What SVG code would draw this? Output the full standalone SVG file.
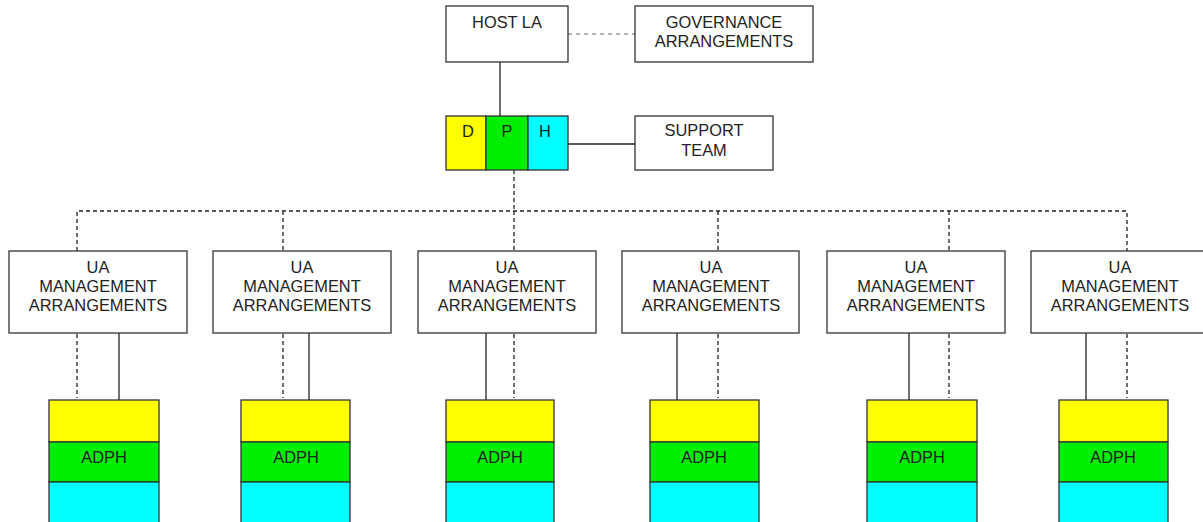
<svg xmlns="http://www.w3.org/2000/svg" width="1203" height="522" viewBox="0 0 1203 522">
<style>
.box{fill:#fff;stroke:#333;stroke-width:1.3}
.y{fill:#ffff00;stroke:#333;stroke-width:1.3}
.g{fill:#00ee00;stroke:#333;stroke-width:1.3}
.c{fill:#00ffff;stroke:#333;stroke-width:1.3}
text{font-family:"Liberation Sans",Arial,sans-serif;font-size:16.4px;fill:#222;text-anchor:middle}
.s{stroke:#222;stroke-width:1.3;fill:none}
.d{stroke:#222;stroke-width:1.3;fill:none;stroke-dasharray:4,3}
.d2{stroke:#666;stroke-width:1.1;fill:none;stroke-dasharray:4,4}
</style>
<rect width="1203" height="522" fill="#fff"/>
<g id="connectors">
<line class="d2" x1="568" y1="34" x2="635" y2="34"/>
<line class="s" x1="500" y1="62" x2="500" y2="116"/>
<line class="s" x1="568" y1="144" x2="635" y2="144"/>
<line class="d" x1="514" y1="170" x2="514" y2="211"/>
<polyline class="d" points="77,251 77,211 1127,211 1127,251"/>
<line class="d" x1="283" y1="211" x2="283" y2="251"/>
<line class="d" x1="514" y1="211" x2="514" y2="251"/>
<line class="d" x1="718" y1="211" x2="718" y2="251"/>
<line class="d" x1="949" y1="211" x2="949" y2="251"/>
<line class="d" x1="77" y1="334" x2="77" y2="398"/>
<line class="s" x1="119" y1="333" x2="119" y2="400"/>
<line class="d" x1="283" y1="334" x2="283" y2="398"/>
<line class="s" x1="309" y1="333" x2="309" y2="400"/>
<line class="s" x1="486" y1="333" x2="486" y2="400"/>
<line class="d" x1="514" y1="334" x2="514" y2="398"/>
<line class="s" x1="677" y1="333" x2="677" y2="400"/>
<line class="d" x1="718" y1="334" x2="718" y2="398"/>
<line class="s" x1="909" y1="333" x2="909" y2="400"/>
<line class="d" x1="949" y1="334" x2="949" y2="398"/>
<line class="s" x1="1086" y1="333" x2="1086" y2="400"/>
<line class="d" x1="1127" y1="334" x2="1127" y2="398"/>
</g>
<g id="host-la"><rect class="box" x="446" y="6" width="122" height="56"/><text x="507" y="28">HOST LA</text></g>
<g id="governance"><rect class="box" x="635" y="6" width="178" height="56"/><text x="724" y="28">GOVERNANCE</text><text x="724" y="47">ARRANGEMENTS</text></g>
<g id="dph">
<rect class="y" x="446" y="116" width="40" height="54"/><text x="468" y="137">D</text>
<rect class="g" x="486" y="116" width="42" height="54"/><text x="507" y="137">P</text>
<rect class="c" x="528" y="116" width="40" height="54"/><text x="545" y="137">H</text>
</g>
<g id="support-team"><rect class="box" x="635" y="116" width="138" height="54"/><text x="704" y="136">SUPPORT</text><text x="704" y="156">TEAM</text></g>
<g id="ua1"><rect class="box" x="9" y="251" width="178" height="82"/><text x="98" y="273">UA</text><text x="98" y="292">MANAGEMENT</text><text x="98" y="311">ARRANGEMENTS</text></g>
<g id="ua2"><rect class="box" x="213" y="251" width="178" height="82"/><text x="302" y="273">UA</text><text x="302" y="292">MANAGEMENT</text><text x="302" y="311">ARRANGEMENTS</text></g>
<g id="ua3"><rect class="box" x="418" y="251" width="178" height="82"/><text x="507" y="273">UA</text><text x="507" y="292">MANAGEMENT</text><text x="507" y="311">ARRANGEMENTS</text></g>
<g id="ua4"><rect class="box" x="622" y="251" width="177" height="82"/><text x="711" y="273">UA</text><text x="711" y="292">MANAGEMENT</text><text x="711" y="311">ARRANGEMENTS</text></g>
<g id="ua5"><rect class="box" x="827" y="251" width="178" height="82"/><text x="916" y="273">UA</text><text x="916" y="292">MANAGEMENT</text><text x="916" y="311">ARRANGEMENTS</text></g>
<g id="ua6"><rect class="box" x="1031" y="251" width="178" height="82"/><text x="1120" y="273">UA</text><text x="1120" y="292">MANAGEMENT</text><text x="1120" y="311">ARRANGEMENTS</text></g>
<g id="adph1"><rect class="y" x="49" y="400" width="110" height="42"/><rect class="g" x="49" y="442" width="110" height="40"/><rect class="c" x="49" y="482" width="110" height="50"/><text x="104" y="463">ADPH</text></g>
<g id="adph2"><rect class="y" x="241" y="400" width="109" height="42"/><rect class="g" x="241" y="442" width="109" height="40"/><rect class="c" x="241" y="482" width="109" height="50"/><text x="296" y="463">ADPH</text></g>
<g id="adph3"><rect class="y" x="446" y="400" width="108" height="42"/><rect class="g" x="446" y="442" width="108" height="40"/><rect class="c" x="446" y="482" width="108" height="50"/><text x="500" y="463">ADPH</text></g>
<g id="adph4"><rect class="y" x="650" y="400" width="109" height="42"/><rect class="g" x="650" y="442" width="109" height="40"/><rect class="c" x="650" y="482" width="109" height="50"/><text x="704" y="463">ADPH</text></g>
<g id="adph5"><rect class="y" x="867" y="400" width="110" height="42"/><rect class="g" x="867" y="442" width="110" height="40"/><rect class="c" x="867" y="482" width="110" height="50"/><text x="922" y="463">ADPH</text></g>
<g id="adph6"><rect class="y" x="1059" y="400" width="109" height="42"/><rect class="g" x="1059" y="442" width="109" height="40"/><rect class="c" x="1059" y="482" width="109" height="50"/><text x="1113" y="463">ADPH</text></g>
</svg>
